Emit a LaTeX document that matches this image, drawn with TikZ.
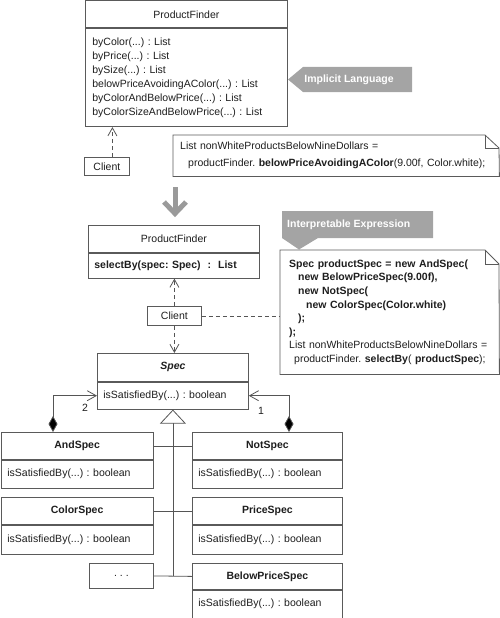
\documentclass[tikz,border=0pt]{standalone}
\usepackage{fontspec}
\setmainfont{Liberation Sans}
\usetikzlibrary{arrows.meta}
\definecolor{boxc}{HTML}{5A5A5A}
\definecolor{linec}{HTML}{555555}
\definecolor{txtc}{HTML}{1E1E1E}
\definecolor{tagc}{HTML}{A4A4A4}
\definecolor{bigc}{HTML}{9A9A9A}
\frenchspacing
\begin{document}
\frenchspacing
\begin{tikzpicture}[x=1pt,y=-1pt,
  font=\fontsize{10.5}{14}\selectfont\frenchspacing,
  every node/.style={text=txtc},
  box/.style={draw=boxc, line width=0.8pt, inner sep=0pt, anchor=north west, fill=white},
  body/.style={box, align=left, inner xsep=#1},
  ttl/.style={font=\fontsize{10.5}{14}\selectfont\bfseries},
  dep/.style={draw=linec, line width=0.8pt, dash pattern=on 4pt off 3pt, -{Straight Barb[length=8pt,width=9pt,line width=0.8pt]}},
  depline/.style={draw=linec, line width=0.8pt, dash pattern=on 4pt off 3pt},
  comp/.style={draw=linec, line width=0.8pt, {Diamond[length=16pt,width=9pt,fill=black]}-{Straight Barb[length=9pt,width=10pt,line width=0.8pt]}},
  gen/.style={draw=linec, line width=0.8pt, -{Triangle[open,length=14pt,width=26pt,fill=white,line width=0.8pt]}},
  solid line/.style={draw=linec, line width=0.8pt},
  notebox/.style={inner sep=0pt, anchor=north west, align=left},
  noteline/.style={draw=boxc, line width=0.8pt},
  tagtext/.style={text=white, font=\fontsize{10.5}{14}\selectfont\bfseries, inner sep=0pt}
]
\useasboundingbox (0,0) rectangle (500,618);

% ---------- top ProductFinder ----------
\node[box, minimum width=202pt, minimum height=27pt] (pf1h) at (85,0.5) {ProductFinder};
\node[body=7pt, text width=188pt, minimum height=98pt] (pf1b) at (pf1h.south west)
 {\frenchspacing byColor(...) : List\\byPrice(...) : List\\bySize(...) : List\\belowPriceAvoidingAColor(...) : List\\byColorAndBelowPrice(...) : List\\byColorSizeAndBelowPrice(...) : List};

\node[box, minimum width=45pt, minimum height=18pt] (c1) at (84,157) {Client};
\draw[dep] ([xshift=5.5pt]c1.north) -- ([xshift=5.5pt]c1.north |- pf1b.south);

% Implicit Language tag
\fill[tagc] (288,79.5) -- (303,67) -- (412,67) -- (412,92) -- (303,92) -- cycle;
\node[tagtext] (imp) at (349,79.5) {Implicit Language};

% note 1
\node[notebox, minimum width=326pt, minimum height=41pt, text width=312pt, inner xsep=7pt,
  font=\fontsize{10.5}{17}\selectfont\frenchspacing] (n1) at (173,135)
 {List nonWhiteProductsBelowNineDollars =\\\hspace*{8pt}productFinder. \textbf{belowPriceAvoidingAColor}(9.00f, Color.white);};
\draw[noteline] (n1.north west) -- (485,135) -- (499,148) -- (n1.south east) -- (n1.south west) -- cycle;
\draw[noteline] (485,135) -- (485,148) -- (499,148);

% big arrow
\draw[bigc, line width=5pt] (175,187) -- (175,213);
\draw[bigc, line width=5pt, miter limit=10] (164,202) -- (175,213.5) -- (186,202);

% ---------- second ProductFinder ----------
\node[box, minimum width=171pt, minimum height=27pt] (pf2h) at (88,225) {ProductFinder};
\node[body=6pt, text width=159pt, minimum height=25pt] (pf2b) at (pf2h.south west)
 {\textbf{selectBy(spec: Spec)\ \ :\ \ List}};

\node[box, minimum width=54pt, minimum height=19pt] (c2) at (147,306) {Client};

% Spec
\node[box, minimum width=151pt, minimum height=28pt, font=\fontsize{10.5}{14}\selectfont\bfseries\itshape] (spech) at (97,353) {Spec};
\node[body=6pt, text width=139pt, minimum height=27pt] (specb) at (spech.south west) {\frenchspacing isSatisfiedBy(...) : boolean};

\draw[dep] (c2.north) -- (c2.north |- pf2b.south);
\draw[dep] (c2.south) -- (c2.south |- spech.north);

% Interpretable Expression tag
\fill[tagc] (282,211) -- (433,211) -- (433,238) -- (318,238) -- (299,249.5) -- (282,238) -- cycle;
\node[tagtext, anchor=west] (intp) at (287,224.5) {Interpretable Expression};

% note 2
\node[notebox, minimum width=219pt, minimum height=124pt, text width=201pt, inner xsep=9pt,
  font=\fontsize{10.5}{13.6}\selectfont\frenchspacing] (n2) at (280,250)
 {\textbf{Spec productSpec = new AndSpec(}\\
  \hspace*{9pt}\textbf{new BelowPriceSpec(9.00f),}\\
  \hspace*{9pt}\textbf{new NotSpec(}\\
  \hspace*{17pt}\textbf{new ColorSpec(Color.white)}\\
  \hspace*{9pt}\textbf{);}\\
  \textbf{);}\\
  List nonWhiteProductsBelowNineDollars =\\
  \hspace*{5pt}productFinder. \textbf{selectBy}( \textbf{productSpec});};
\draw[noteline] (n2.north west) -- (485,250) -- (499,264) -- (n2.south east) -- (n2.south west) -- cycle;
\draw[noteline] (485,250) -- (485,264) -- (499,264);

\draw[depline] (c2.east) -- (c2.east -| n2.west);

% ---------- subclasses ----------
\node[box, ttl, minimum width=152.5pt, minimum height=27pt] (andh) at (0.5,432) {AndSpec};
\node[body=6.5pt, text width=139.5pt, minimum height=28pt] (andb) at (andh.south west) {\frenchspacing isSatisfiedBy(...) : boolean};

\node[box, ttl, minimum width=152.5pt, minimum height=27pt] (colh) at (0.5,497) {ColorSpec};
\node[body=6.5pt, text width=139.5pt, minimum height=29pt] (colb) at (colh.south west) {\frenchspacing isSatisfiedBy(...) : boolean};

\node[box, minimum width=64pt, minimum height=25pt] (dots) at (89,563) {. . .};

\node[box, ttl, minimum width=150pt, minimum height=27pt] (noth) at (192,432) {NotSpec};
\node[body=6pt, text width=138pt, minimum height=28pt] (notb) at (noth.south west) {\frenchspacing isSatisfiedBy(...) : boolean};

\node[box, ttl, minimum width=150pt, minimum height=27pt] (prih) at (192,497) {PriceSpec};
\node[body=6pt, text width=138pt, minimum height=29pt] (prib) at (prih.south west) {\frenchspacing isSatisfiedBy(...) : boolean};

\node[box, ttl, minimum width=150pt, minimum height=26pt] (belh) at (192,563) {BelowPriceSpec};
\node[body=6pt, text width=138pt, minimum height=28pt] (belb) at (belh.south west) {\frenchspacing isSatisfiedBy(...) : boolean};

% generalization
\draw[solid line] (andh.east) -- (noth.west);
\draw[solid line] (colh.east) -- (prih.west);
\draw[solid line] (dots.east) -- (belh.west);
\draw[gen] (dots.east -| specb.south) -- (specb.south);

% compositions
\draw[comp] ([xshift=52.5pt]andh.north west) |- (specb.west);
\draw[comp] ([xshift=97pt]noth.north west) |- (specb.east);
\node (lbl2) at (85,408) {2};
\node (lbl1) at (261,411) {1};

\end{tikzpicture}
\end{document}
